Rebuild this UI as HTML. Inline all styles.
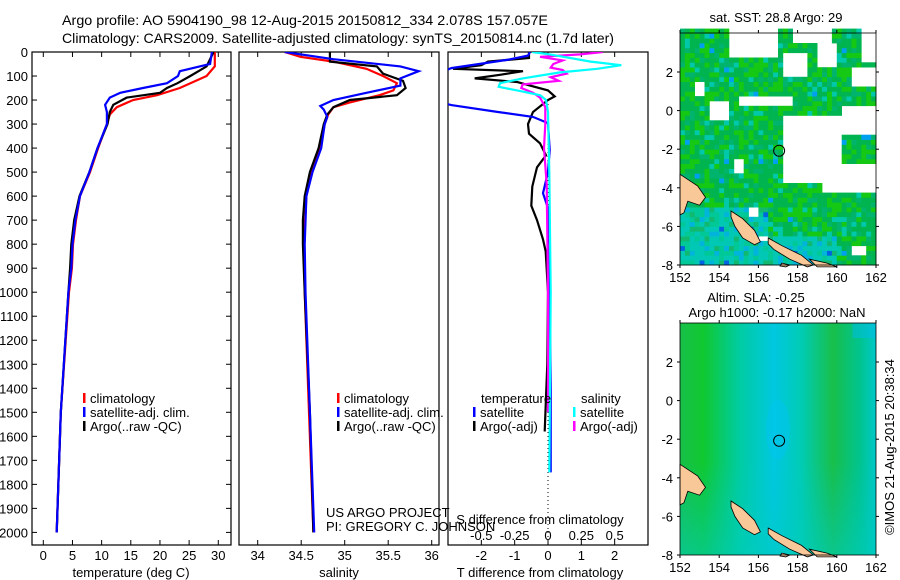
<!DOCTYPE html>
<html><head><meta charset="utf-8"><style>
body{margin:0;background:#fff;}
svg{display:block;font-family:"Liberation Sans",Arial,sans-serif;}
text{fill:#000;}
</style></head><body>
<svg id="c" width="900" height="580" viewBox="0 0 900 580" xmlns="http://www.w3.org/2000/svg">
<text x="62" y="25" font-size="14" textLength="486" lengthAdjust="spacingAndGlyphs">Argo profile: AO 5904190_98 12-Aug-2015 20150812_334 2.078S 157.057E</text>
<text x="62" y="43" font-size="14" textLength="552" lengthAdjust="spacingAndGlyphs">Climatology: CARS2009. Satellite-adjusted climatology: synTS_20150814.nc (1.7d later)</text>
<g id="g"></g>
</svg>
<script>
// ---------- data ----------
const depthT = [0,60,100,150,180,200,230,260,300,400,500,600,700,800,900,1000,1500,2000];
const tempClim = [29.4,29.4,28,23.4,19.5,15.4,12.6,11.4,10.9,9.4,8,6.3,5.6,5.1,4.9,4.4,3.0,2.3];
const depthTs = [0,50,80,100,130,150,170,190,220,250,300,400,500,600,700,800,900,1000,1500,2000];
const tempSat = [28.9,28.6,23.4,23.1,21.2,17.1,13.2,11.4,10.6,10.9,10.9,9.3,7.9,6.3,5.5,5.0,4.8,4.3,3.0,2.3];
const depthTa = [0,60,100,130,150,170,190,220,250,300,400,500,600,700,800,900,1000,1500,2000];
const tempArgo = [29.2,28.0,25.2,23,21.2,20,14.3,12,11.4,11,9.3,7.9,6.2,5.3,4.8,4.6,4.3,3.0,2.3];

const depthS = [0,20,40,70,100,130,160,180,210,230,260,300,400,500,600,800,1000,1500,2000];
const salClim = [34.31,34.49,34.87,35.25,35.44,35.6,35.56,35.4,35.06,34.87,34.81,34.77,34.72,34.62,34.56,34.53,34.54,34.59,34.64];
const depthSs = [0,30,60,80,110,140,170,200,225,240,270,300,400,500,600,800,1000,1500,2000];
const salSat = [34.31,34.87,35.64,35.85,35.64,35.64,35.25,34.87,34.72,34.76,34.8,34.77,34.73,34.63,34.56,34.54,34.55,34.6,34.65];
const depthSa = [0,40,60,90,120,150,180,200,230,260,300,400,500,600,700,800,1000,1500,2000];
const salArgo = [34.83,34.83,35.37,35.44,35.67,35.7,35.6,35.06,34.87,34.8,34.76,34.7,34.6,34.54,34.52,34.52,34.54,34.6,34.64];

const depthDT = [0,15,33,67,100,200,221,250,270,296,408,500,588,650,800,1000,1400,1750];
const dTsat = [-0.54,-0.6,-1.23,-2.9,-3.5,-3.5,-2.9,-1.5,-0.45,0,0.05,0,-0.15,0,0.05,0.05,0.08,0.08];
const depthDA = [0,25,40,55,70,80,95,110,125,140,160,185,200,250,300,340,380,430,480,560,640,700,780,830,1000,1300,1580];
const dTargo = [-0.57,-0.57,-1.8,-2.0,-2.85,-0.75,-1.44,-2.2,-0.93,-0.54,0,0.2,0,-0.45,-0.6,-0.57,-0.24,-0.06,-0.33,-0.47,-0.5,-0.33,-0.15,-0.07,0,-0.02,-0.1];
const depthDS = [0,10,40,55,70,85,110,130,145,165,180,200,250,500,1000,1750];
const dSsat = [-0.12,0.015,0.32,0.55,0.37,0.09,-0.19,-0.36,-0.37,-0.19,-0.06,-0.015,0,0.01,0.02,0.01];
const depthDM = [0,10,20,35,50,65,75,90,105,120,135,150,170,190,230,300,400,550,1000,1500];
const dSargo = [0.41,0.24,-0.06,0.11,0.04,0.02,0.11,0.14,0.02,0.08,-0.19,-0.2,-0.11,-0.06,-0.02,-0.02,-0.03,-0.01,0,0];

const depthTicks = [0,100,200,300,400,500,600,700,800,900,1000,1100,1200,1300,1400,1500,1600,1700,1800,1900,2000];
const tempTicks = [0,5,10,15,20,25,30];
const salTicks = [34,34.5,35,35.5,36];
const dTTicks = [-2,-1,0,1,2];
const dSTicks = [-0.5,-0.25,0,0.25,0.5];
const dSLabels = ["-0.5","-0.25","0","0.25","0.5"];
const lonTicks = [152,154,156,158,160,162];
const latTicks = [2,0,-2,-4,-6,-8];

// ---------- scales ----------
const yD = d => 52 + d*0.2402;
const xT = t => 43.3 + t*5.833;
const xS = s => 257.7 + (s-34)*87;
const xdT = v => 548 + v*33.33;
const xdS = v => 548 + v*133.3;
const PB = 545, PT = 52;
const mx = lon => 680 + (lon-152)*19.6;
const my1 = lat => 265 - (lat+8)*19.3;
const my2 = lat => 555 - (lat+8)*19.3;

const NS="http://www.w3.org/2000/svg";
const G=document.getElementById('g');
function el(tag,attrs,parent){const e=document.createElementNS(NS,tag);for(const k in attrs)e.setAttribute(k,attrs[k]);(parent||G).appendChild(e);return e;}
function txt(x,y,s,size,anchor,parent){const e=el('text',{x:x,y:y,'font-size':size||13,'text-anchor':anchor||'start'},parent);e.textContent=s;return e;}

const defs=el('defs',{});
[[1,32,231],[2,239,439],[3,448,648]].forEach(p=>{const cp=el('clipPath',{id:'cp'+p[0]},defs);el('rect',{x:p[1],y:PT,width:p[2]-p[1],height:PB-PT},cp);});

function panel(x0,x1,name){const r=el('rect',{x:x0,y:PT,width:x1-x0,height:PB-PT,fill:'#fff',stroke:'#000','stroke-width':1.2});}
panel(32,231,'temperature-panel');panel(239,439,'salinity-panel');panel(448,648,'difference-panel');

depthTicks.forEach(d=>{const y=yD(d);
 el('line',{x1:32,x2:37,y1:y,y2:y,stroke:'#000'});el('line',{x1:226,x2:231,y1:y,y2:y,stroke:'#000'});
 const t=txt(28,y+5,String(d),13,'end');});
function xticks(vals,fx,labels,ylab,top){vals.forEach((v,i)=>{const x=fx(v);
 el('line',{x1:x,x2:x,y1:PB,y2:PB-5,stroke:'#000'});if(top)el('line',{x1:x,x2:x,y1:PT,y2:PT+5,stroke:'#000'});
 if(ylab){const t=txt(x,ylab,labels?labels[i]:String(v),13,'middle');}});}
xticks(tempTicks,xT,null,560,true);
xticks(salTicks,xS,null,560,true);
xticks(dTTicks,xdT,null,560,true);
dSTicks.forEach((v,i)=>{const t=txt(xdS(v),540,dSLabels[i],13,'middle');});
let t1=txt(131,577,'temperature (deg C)',13,'middle');
let t2=txt(339,577,'salinity',13,'middle');
let t3=txt(540,577,'T difference from climatology',13,'middle');
let t4=txt(540,524,'S difference from climatology',13,'middle');
el('line',{x1:548,x2:548,y1:100,y2:PB,stroke:'#000','stroke-dasharray':'1,3'});

function line(ds,vs,fx,color,clip,name){const pts=ds.map((d,i)=>fx(vs[i]).toFixed(1)+','+yD(d).toFixed(1)).join(' ');
 const p=el('polyline',{points:pts,fill:'none',stroke:color,'stroke-width':2.2,'clip-path':'url(#'+clip+')'});
 }
line(depthT,tempClim,xT,'#f00','cp1','temp-climatology-line');
line(depthTa,tempArgo,xT,'#000','cp1','temp-argo-line');
line(depthTs,tempSat,xT,'#00f','cp1','temp-satellite-line');
line(depthS,salClim,xS,'#f00','cp2','sal-climatology-line');
line(depthSa,salArgo,xS,'#000','cp2','sal-argo-line');
line(depthSs,salSat,xS,'#00f','cp2','sal-satellite-line');
line(depthDA,dTargo,xdT,'#000','cp3','t-diff-argo-line');
line(depthDT,dTsat,xdT,'#00f','cp3','t-diff-satellite-line');
line(depthDM,dSargo,xdS,'#f0f','cp3','s-diff-argo-line');
line(depthDS,dSsat,xdS,'#0ff','cp3','s-diff-satellite-line');

function leg(x,y,color,label,name){el('rect',{x:x,y:y-10,width:2.5,height:10,fill:color});const t=txt(x+7,y,label,13);}
leg(83,403,'#f00','climatology','legend-climatology');leg(83,417,'#00f','satellite-adj. clim.','legend-satellite-adj');leg(83,431,'#000','Argo(..raw -QC)','legend-argo');
leg(337,403,'#f00','climatology','legend-climatology-2');leg(337,417,'#00f','satellite-adj. clim.','legend-satellite-adj-2');leg(337,431,'#000','Argo(..raw -QC)','legend-argo-2');
txt(481,403,'temperature',13);txt(581,403,'salinity',13);
leg(473,417,'#00f','satellite','legend-t-satellite');leg(473,431,'#000','Argo(-adj)','legend-t-argo');
leg(573,417,'#0ff','satellite','legend-s-satellite');leg(573,431,'#f0f','Argo(-adj)','legend-s-argo');
txt(326,517,'US ARGO PROJECT',13);txt(326,531,'PI: GREGORY C. JOHNSON',13);

// ---------- maps ----------
function hash(i,j){let h=(i*374761393+j*668265263)^0x5bd1e995;h=(h^(h>>>13))*1274126177;return ((h^(h>>>16))>>>0)/4294967296;}
const whites=[[154.6,157,4.2,2.6],[152.7,153.2,1.5,0.8],[153.5,154.4,0.5,-0.6],[155.1,157.7,0.8,0.3],[157.2,160.3,-0.4,-3.9],[160.3,162,0.1,-1.4],[159.3,162,-2.7,-4.2],[157.7,159.8,4.2,3.5],[159.1,160.1,3.5,2.2],[161.2,162,4.2,2.5],[160.8,162,2.1,1.3],[157.2,158.4,3,1.8],[154.7,155.2,-2.6,-3.2],[155.5,156,-5,-5.5],[156,156.5,-6.5,-6.8],[160.7,161.5,-7,-7.5]];
function isWhite(lon,lat){return whites.some(w=>lon>=w[0]&&lon<w[1]&&lat<=w[2]&&lat>w[3]);}
const m1=el('g',{});
el('rect',{x:680,y:33,width:196,height:232,fill:'#fff'},m1);
const step=0.25;
for(let lon=152;lon<162;lon+=step){for(let lat=-8;lat<4.2;lat+=step){
 if(isWhite(lon+0.1,lat+0.1))continue;
 const i=Math.round(lon*4),j=Math.round(lat*4);const r=hash(i,j);
 let c;const cy=(lat<-5&&lon<156.5)||(lat<-6.5&&lon<160);
 if(cy){c=r<0.45?'#00c8b4':r<0.7?'#00c896':r<0.85?'#00b4dc':'#10b870';if(r>0.97)c='#0064e0';}
 else{c=r<0.45?'#00b450':r<0.75?'#14c814':r<0.9?'#00b46e':'#00c8aa';if(r>0.985)c='#00a0f0';}
 el('rect',{x:mx(lon).toFixed(1),y:my1(lat+step).toFixed(1),width:5.2,height:5.2,fill:c},m1);}}
const m2=el('g',{});
const gd=el('linearGradient',{id:'slag',x1:0,y1:0,x2:1,y2:0},defs);
[[0,'#18c04a'],[0.12,'#10c830'],[0.3,'#00cca0'],[0.48,'#00c8e0'],[0.62,'#00ccb4'],[0.78,'#18bf4a'],[0.92,'#00c490'],[1,'#00c8c8']].forEach(s=>el('stop',{offset:s[0],'stop-color':s[1]},gd));
const gv=el('linearGradient',{id:'slav',x1:0,y1:0,x2:0,y2:1},defs);
[[0,'rgba(0,200,200,0)'],[0.6,'rgba(0,200,200,0)'],[1,'rgba(0,204,190,0.55)']].forEach(s=>el('stop',{offset:s[0],'stop-color':s[1]},gv));
el('rect',{x:680,y:323,width:196,height:232,fill:'url(#slag)'},m2);
el('rect',{x:680,y:323,width:196,height:232,fill:'url(#slav)'},m2);
el('ellipse',{cx:mx(157),cy:my2(-1.5),rx:12,ry:30,fill:'#00c4f0',opacity:0.5},m2);
el('rect',{x:mx(160.8),y:323,width:mx(162)-mx(160.8),height:15,fill:'#00bce8',opacity:0.5},m2);

const land=[[[152,-3.3],[152.9,-3.9],[153.3,-4.5],[153,-4.9],[152.4,-4.7],[152.2,-5.3],[152,-5.4]],
 [[154.6,-5.2],[155.2,-5.6],[155.8,-6.2],[156.1,-6.8],[155.8,-6.95],[155.2,-6.6],[154.8,-6],[154.6,-5.5]],
 [[156.5,-6.6],[157.2,-7.0],[158.2,-7.5],[158.8,-8.0],[158.5,-8.1],[157.6,-7.7],[156.8,-7.2],[156.5,-6.9]],
 [[158.6,-7.7],[159.5,-7.9],[160,-8.1],[159,-8.1]],[[157.2,-7.9],[157.6,-8],[157.4,-8.1],[157.1,-8.05]]];
[[m1,my1],[m2,my2]].forEach(([g,fy],k)=>{land.forEach(poly=>{const pts=poly.map(p=>mx(p[0]).toFixed(1)+','+fy(p[1]).toFixed(1)).join(' ');
 const p=el('polygon',{points:pts,fill:'#f8c898',stroke:'#000','stroke-width':0.8},g);});
 const c=el('circle',{cx:mx(157.057),cy:fy(-2.078),r:5.5,fill:'none',stroke:'#000','stroke-width':1},g);
 const top=k?323:33,bot=k?555:265;
 el('rect',{x:680,y:top,width:196,height:bot-top,fill:'none',stroke:'#000','stroke-width':0.8},g);
 lonTicks.forEach(l=>{const x=mx(l);el('line',{x1:x,x2:x,y1:bot,y2:bot+3,stroke:'#000'},g);el('line',{x1:x,x2:x,y1:top,y2:top-3,stroke:'#000'},g);
  const t=txt(x,bot+17,String(l),13,'middle',g);});
 latTicks.forEach(l=>{const y=fy(l);el('line',{x1:677,x2:680,y1:y,y2:y,stroke:'#000'},g);el('line',{x1:876,x2:879,y1:y,y2:y,stroke:'#000'},g);
  const t=txt(673,y+5,String(l),13,'end',g);});
});
let mt=txt(776,22,'sat. SST: 28.8 Argo: 29',13,'middle');
let mt2=txt(756,302,'Altim. SLA: -0.25',13,'middle');
let mt3=txt(777,317,'Argo h1000: -0.17 h2000: NaN',13,'middle');
let cr=txt(0,0,'©IMOS 21-Aug-2015 20:38:34',13,'middle');cr.setAttribute('transform','translate(894,447) rotate(-90)');
</script>
</body></html>
